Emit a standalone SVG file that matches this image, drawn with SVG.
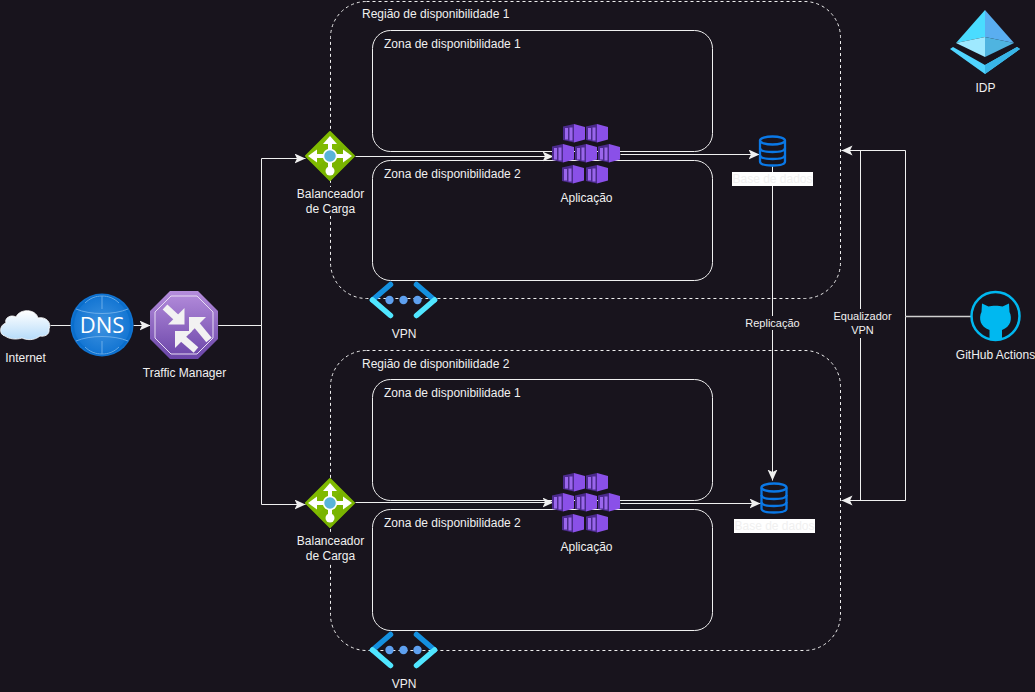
<svg xmlns="http://www.w3.org/2000/svg" xmlns:xlink="http://www.w3.org/1999/xlink" width="1035" height="692" viewBox="0 0 1035 692">
<style>
text{font-family:"Liberation Sans",Arial,sans-serif;font-size:12px;fill:#f0f0f0;text-anchor:middle}
text.l{text-anchor:start}
text.s{font-size:11px}
.region{fill:none;stroke:#f0f0f0;stroke-dasharray:3 3;transform:translate(.5px,.5px)}
.zone{fill:none;stroke:#f0f0f0;transform:translate(.5px,.5px)}
.c{fill:none;stroke:#f0f0f0;transform:translate(.5px,.5px)}
.bg{fill:#18141d}
</style>
<defs>
<marker id="a" markerUnits="userSpaceOnUse" markerWidth="12" markerHeight="12" refX="11" refY="5" orient="auto"><path d="M0 0L11 5L0 10L2.500 5Z" fill="#f0f0f0"/></marker>
<linearGradient id="cloud" x1="0" y1="0" x2="0" y2="1"><stop offset="0" stop-color="#ffffff"/><stop offset="1" stop-color="#b6dcfa"/></linearGradient>
<radialGradient id="dns" cx=".5" cy=".5" r=".55"><stop offset="0" stop-color="#3f93e0"/><stop offset="1" stop-color="#0a6fd0"/></radialGradient>
<linearGradient id="tm" x1="0" y1="0" x2="0" y2="1"><stop offset="0" stop-color="#b58ddc"/><stop offset="1" stop-color="#6a45a8"/></linearGradient>
<g id="box">
<path d="M11 0L22 3V15.500L11 18.500Z" fill="#8a50e8"/>
<path d="M0 2.500L11 0V18.500L0 16Z" fill="#4b2a8c"/>
<path d="M2 4H5V15.500H2ZM6.500 3.500H9.500V16.500H6.500Z" fill="#9a66ec"/>
</g>
<g id="aks">
<use xlink:href="#box" x="10" y="0"/><use xlink:href="#box" x="33" y="0"/>
<use xlink:href="#box" x="-1" y="20"/><use xlink:href="#box" x="22" y="20"/><use xlink:href="#box" x="45" y="20"/>
<use xlink:href="#box" x="9" y="41"/><use xlink:href="#box" x="33" y="41"/>
</g>
<g id="lb">
<path d="M0 -24L24 0L0 24L-24 0Z" fill="#7fba00" stroke="#7fba00" stroke-width="2" stroke-linejoin="round"/>
<path d="M0 25L-13 12L12 -13L25 0Z" fill="#6fa800" opacity=".35"/>
<path d="M-17 0H17M0 -15V14" stroke="#fff" stroke-width="4" fill="none"/>
<path d="M-22 0L-13 -6.500V6.500ZM22 0L13 -6.500V6.500ZM0 -20L-7 -12H7Z" fill="#fff"/>
<circle cx="0" cy="15" r="4.500" fill="#fff"/>
<circle cx="0" cy="0" r="6.500" fill="#59b4d9" stroke="#fff" stroke-width="1.500"/>
</g>
<g id="db" fill="none" stroke="#0a78e6" stroke-width="2.300">
<ellipse cx="0" cy="-10.500" rx="12.500" ry="4"/>
<path d="M-12.500 -10.500V10.500C-12.500 13.500 -6 14.500 0 14.500S12.500 13.500 12.500 10.500V-10.500"/>
<path d="M-12.500 -3C-12.500 0 -6 1 0 1S12.500 0 12.500 -3M-12.500 4C-12.500 7 -6 8 0 8S12.500 7 12.500 4"/>
</g>
<g id="vpn" fill="none" stroke-width="5.500" stroke-linecap="round">
<path d="M-13 -15.500L-31 0M13 -15.500L31 0" stroke="#1490df"/>
<path d="M-31 0L-13 15.500M31 0L13 15.500" stroke="#50e6ff"/>
<g stroke="none" fill="#5ea0ef"><circle cx="-14" cy="0" r="4.200"/><circle cx="0" cy="0" r="4.200"/><circle cx="14" cy="0" r="4.200"/></g>
</g>
</defs>
<rect width="1035" height="692" fill="#18141d"/>

<g id="regiao1"><rect class="region" x="330" y="1" width="510" height="297" rx="36"/><text class="l" x="362" y="18">Região de disponibilidade 1</text></g>
<g id="regiao2"><rect class="region" x="330" y="350" width="510" height="300" rx="36"/><text class="l" x="362" y="368">Região de disponibilidade 2</text></g>
<g id="zona1-1"><rect class="zone" x="372" y="30" width="340" height="121" rx="18"/><text class="l" x="384" y="48">Zona de disponibilidade 1</text></g>
<g id="zona1-2"><rect class="zone" x="372" y="160" width="340" height="120" rx="18"/><text class="l" x="384" y="178">Zona de disponibilidade 2</text></g>
<g id="zona2-1"><rect class="zone" x="372" y="379" width="340" height="121" rx="18"/><text class="l" x="384" y="397">Zona de disponibilidade 1</text></g>
<g id="zona2-2"><rect class="zone" x="372" y="509" width="340" height="121" rx="18"/><text class="l" x="384" y="527">Zona de disponibilidade 2</text></g>

<g id="connectors">
<path class="c" d="M50 325H71"/>
<path class="c" marker-end="url(#a)" d="M133 325H150"/>
<path class="c" marker-end="url(#a)" d="M218 325H261V158H305"/>
<path class="c" marker-end="url(#a)" d="M218 325H261V504H305"/>
<path class="c" marker-end="url(#a)" d="M355 156H553"/>
<path class="c" marker-end="url(#a)" d="M355 502H553"/>
<path class="c" marker-end="url(#a)" d="M620 154H759"/>
<path class="c" marker-end="url(#a)" d="M620 503H760"/>
<path class="c" marker-end="url(#a)" d="M772 166V480"/>
<path class="c" d="M860 150V500"/>
<path class="c" marker-end="url(#a)" d="M905 316V150H841"/>
<path class="c" marker-end="url(#a)" d="M905 316V500H841"/>
<path class="c" style="stroke:#d0d0d0;stroke-width:1.500" d="M905 316H971"/>
</g>

<g id="internet"><path d="M5 336C-1 335 -1 325 6 323C4 318 11 314 16 317C20 308 36 309 38 318C46 316 52 323 49 329C50 335 44 337 40 336C34 341 26 340 22 338C16 340 9 339 5 336Z" fill="url(#cloud)" stroke="#fff" stroke-width=".8"/><text x="25.500" y="362">Internet</text></g>
<g id="dns-node"><circle cx="102" cy="325" r="31.500" fill="url(#dns)"/><circle cx="102" cy="325" r="29" fill="none" stroke="#0a6ecb" stroke-width="2"/><g fill="none" stroke="#7db8ee" stroke-width="1" opacity=".8"><path d="M76 309C90 315 114 315 128 309M76 341C90 335 114 335 128 341"/><path d="M85 303C90 298 96 296 102 296C108 296 114 298 119 303M85 347C90 352 96 354 102 354C108 354 114 352 119 347"/><path d="M102 296V309M102 341V354"/></g><text x="102" y="333" style="font-size:22px;font-family:'Open Sans','Noto Sans',sans-serif;fill:#fff">DNS</text></g>
<g id="traffic-manager"><path d="M170 291H198L218 311V339L198 359H170L150 339V311Z" fill="url(#tm)"/><path d="M171 296H197L213 312V338L197 354H171L155 338V312Z" fill="none" stroke="#e6dcf2" stroke-width="1"/>
<g fill="#f2f2f2" stroke="#f2f2f2"><path d="M165 307L178 319" stroke-width="7" fill="none"/><path d="M184.500 308V324.500H168Z" stroke="none"/><path d="M209 340L195 323" stroke-width="7" fill="none"/><path d="M189 317H206L189 334Z" stroke="none"/><path d="M196 350L181 337" stroke-width="7" fill="none"/><path d="M175 331H192L175 348Z" stroke="none"/></g>
<text x="184.500" y="377">Traffic Manager</text></g>
<g id="lb1"><use xlink:href="#lb" x="330" y="156"/><rect class="bg" x="296" y="187" width="69" height="29"/><text x="330.500" y="198">Balanceador</text><text x="330.500" y="213">de Carga</text></g>
<g id="lb2"><use xlink:href="#lb" x="330" y="503"/><rect class="bg" x="296" y="534" width="69" height="29"/><text x="330.500" y="545">Balanceador</text><text x="330.500" y="560">de Carga</text></g>
<g id="app1"><use xlink:href="#aks" x="553" y="124"/><text x="586.500" y="202">Aplicação</text></g>
<g id="app2"><use xlink:href="#aks" x="553" y="473"/><text x="586.500" y="551">Aplicação</text></g>
<g id="db1"><use xlink:href="#db" x="772.500" y="151"/><rect x="732" y="172" width="81" height="14" fill="#fff"/><text x="772.500" y="183">Base de dados</text></g>
<g id="db2"><use xlink:href="#db" x="774" y="498"/><rect x="734" y="519" width="81" height="14" fill="#fff"/><text x="774.500" y="530">Base de dados</text></g>
<g id="vpn1"><use xlink:href="#vpn" x="403.500" y="300"/><text x="404" y="338">VPN</text></g>
<g id="vpn2"><use xlink:href="#vpn" x="403.500" y="650"/><text x="404" y="688">VPN</text></g>
<g id="replicacao"><rect class="bg" x="743" y="316" width="59" height="14"/><text class="s" x="772.500" y="327">Replicação</text></g>
<g id="equalizador"><rect class="bg" x="832" y="309" width="62" height="29"/><text class="s" x="862.500" y="320">Equalizador</text><text class="s" x="862.500" y="334">VPN</text></g>
<g id="idp"><path d="M985 10L1014 43L985 37Z" fill="#5aaef0"/><path d="M985 10L956 43L985 37Z" fill="#4adcff"/><path d="M985 37L1014 43L985 57Z" fill="#4fb4e0"/><path d="M985 37L956 43L985 57Z" fill="#9fe9ff"/><path d="M950 49L953 47L985 65L1017 47L1020 49L985 74Z" fill="#50d5ff"/><path d="M985 65L1017 47L1020 49L985 74Z" fill="#38b6e8"/><text x="985.500" y="92">IDP</text></g>
<g id="github"><circle cx="995.500" cy="316" r="24" fill="#18141d" stroke="#00b8f0" stroke-width="2.500"/><path d="M982 303.500L988.500 306.500C992 305.500 999 305.500 1002.500 306.500L1009 303.500L1009.500 312C1012.500 318 1011 327 1002 330V339H989.500V330C980 327 978.500 318 981.500 312Z" fill="#00b8f0"/><text x="995.500" y="359">GitHub Actions</text></g>
</svg>
